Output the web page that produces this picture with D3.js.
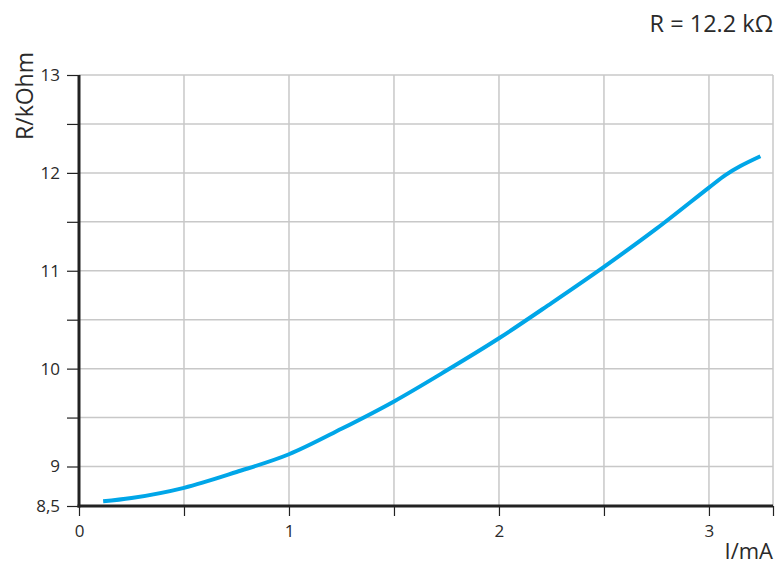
<!DOCTYPE html>
<html>
<head>
<meta charset="utf-8">
<script src="https://cdn.jsdelivr.net/npm/d3@7"></script>
<style>
  html, body { margin: 0; padding: 0; background: #fff; }
  svg { display: block; font-family: "Open Sans", "Noto Sans", sans-serif; }
</style>
</head>
<body>
<svg id="chart" width="776" height="565"></svg>
<script>
// Data
const currentMA = [0.115, 0.25, 0.5, 0.75, 1.0, 1.25, 1.5, 1.75, 2.0, 2.25, 2.5, 2.75, 3.0, 3.08, 3.15, 3.245];
const resistanceKOhm = [8.56, 8.60, 8.73, 8.93, 9.125, 9.385, 9.665, 9.98, 10.31, 10.67, 11.04, 11.43, 11.85, 11.98, 12.07, 12.17];
const xTickValues = [0, 0.5, 1, 1.5, 2, 2.5, 3, 3.305];
const xTickLabels = ["0", "", "1", "", "2", "", "3", ""];
const yTickValues = [8.5, 9, 9.5, 10, 10.5, 11, 11.5, 12, 12.5, 13];
const yTickLabels = ["8,5", "9", "", "10", "", "11", "", "12", "", "13"];
const chartTitle = "R = 12.2 kΩ";
const xTitle = "I/mA";
const yTitle = "R/kOhm";

const svg = d3.select("#chart");
const pLeft = 79, pRight = 773, pTop = 75, pBottom = 506;

const x = d3.scaleLinear().domain([0, 3.305]).range([pLeft, pRight]);
// broken axis: 8.5 .. 9 compressed
const y = d3.scaleLinear().domain([8.5, 9, 13]).range([pBottom, 466.5, pTop]);

const gridColor = "#c8c8c8";
const axisColor = "#222";
const textColor = "#2a2a2a";
const fontFam = "'Open Sans', 'Noto Sans', sans-serif";

// grid
svg.append("g").selectAll("line")
  .data(yTickValues.filter(v => v > 8.5))
  .join("line")
  .attr("x1", pLeft).attr("x2", pRight)
  .attr("y1", d => y(d)).attr("y2", d => y(d))
  .attr("stroke", gridColor).attr("stroke-width", 1.5);

svg.append("g").selectAll("line")
  .data(xTickValues.filter(v => v > 0))
  .join("line")
  .attr("x1", d => x(d)).attr("x2", d => x(d))
  .attr("y1", pTop).attr("y2", pBottom)
  .attr("stroke", gridColor).attr("stroke-width", 1.5);

// axes via d3
const xAxis = d3.axisBottom(x).tickValues(xTickValues)
  .tickFormat((d, i) => xTickLabels[i]).tickSize(10).tickPadding(9);
const gx = svg.append("g").attr("transform", `translate(0,${pBottom})`).call(xAxis);
gx.select(".domain").remove();
gx.selectAll(".tick line").attr("stroke", axisColor).attr("stroke-width", 1.2);
gx.selectAll(".tick text").attr("fill", textColor).style("font-size", "17px")
  .style("font-family", fontFam);

const yAxis = d3.axisLeft(y).tickValues(yTickValues)
  .tickFormat((d, i) => yTickLabels[i]).tickSize(12).tickPadding(7);
const gy = svg.append("g").attr("transform", `translate(${pLeft},0)`).call(yAxis);
gy.select(".domain").remove();
gy.selectAll(".tick line").attr("stroke", axisColor).attr("stroke-width", 1.2);
gy.selectAll(".tick text").attr("fill", textColor).style("font-size", "17px")
  .style("font-family", fontFam);

// thick axis lines
svg.append("line").attr("x1", pLeft).attr("x2", pLeft).attr("y1", pTop).attr("y2", pBottom + 1.5)
  .attr("stroke", axisColor).attr("stroke-width", 3);
svg.append("line").attr("x1", pLeft - 1.5).attr("x2", pRight).attr("y1", pBottom).attr("y2", pBottom)
  .attr("stroke", axisColor).attr("stroke-width", 3);

// curve
const line = d3.line()
  .x((d, i) => x(currentMA[i]))
  .y(d => y(d))
  .curve(d3.curveCatmullRom.alpha(0.5));
svg.append("path").datum(resistanceKOhm)
  .attr("d", line)
  .attr("fill", "none")
  .attr("stroke", "#00a6e8")
  .attr("stroke-width", 4)
  .attr("stroke-linecap", "butt");

// titles
svg.append("text").attr("x", 773).attr("y", 32).attr("text-anchor", "end")
  .attr("fill", textColor).style("font-size", "23.5px").text(chartTitle);
svg.append("text").attr("x", 773).attr("y", 559).attr("text-anchor", "end")
  .attr("fill", textColor).style("font-size", "22px").text(xTitle);
svg.append("text").attr("transform", "translate(33,96) rotate(-90)").attr("text-anchor", "middle")
  .attr("fill", textColor).style("font-size", "23px").text(yTitle);
</script>
</body>
</html>
